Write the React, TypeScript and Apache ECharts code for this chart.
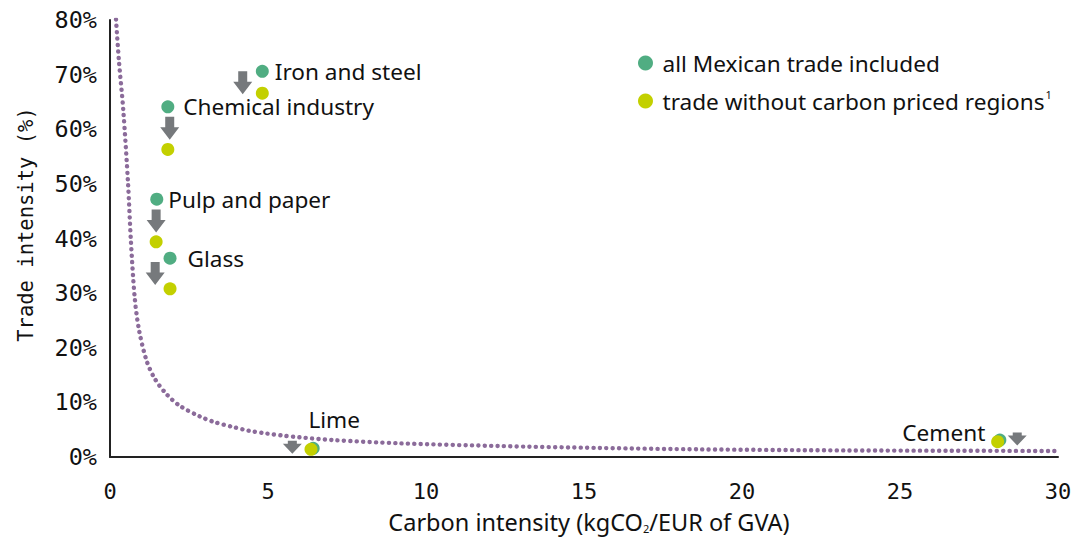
import React, { useEffect, useRef } from "react";
import * as echarts from "echarts";

// ---- data ----
const sectors = ["Iron and steel", "Chemical industry", "Pulp and paper", "Glass", "Lime", "Cement"];
const carbonAll = [4.82, 1.83, 1.48, 1.9, 6.43, 28.16];
const tradeAll = [70.6, 64.1, 47.2, 36.4, 1.6, 3.1];
const carbonNoPrice = [4.82, 1.83, 1.46, 1.9, 6.36, 28.09];
const tradeNoPrice = [66.6, 56.3, 39.4, 30.8, 1.4, 2.8];

const arrowX = [4.2, 1.89, 1.46, 1.43, 5.77, 28.71];
const arrowY = [68.5, 60.2, 43.2, 33.6, 1.8, 3.3];
const arrowKind = ["tall", "tall", "tall", "tall", "short", "short"];

const curveX = [0.19, 0.28, 0.42, 0.57, 0.66, 0.78, 0.92, 1.16, 1.42, 1.79, 2.2, 2.85, 3.3, 3.89, 4.4, 4.96, 5.5, 6.01, 7.06, 9.18, 12.34, 15.5, 18.67, 23.4, 26.5, 30];
const curveY = [80.1, 72.7, 63.5, 50.2, 39.7, 29.3, 23.2, 17.6, 14.3, 11.5, 9.4, 7.4, 6.4, 5.5, 4.8, 4.3, 3.9, 3.6, 3.1, 2.5, 2.0, 1.65, 1.4, 1.2, 1.15, 1.1];

const xTicks = { min: 0, max: 30, interval: 5 };
const yTicks = { min: 0, max: 80, interval: 10 };

const legendAll = "all Mexican trade included";
const legendNoPrice = "trade without carbon priced regions";
const xTitle = "Carbon intensity (kgCO{sub|2}/EUR of GVA)";
const yTitle = "Trade intensity (%)";

const SANS = "Noto Sans";
const MONO = "DejaVu Sans Mono";
const GREEN = "#50ad82";
const YELLOW = "#c3d000";
const GREY = "#76797c";
const PURPLE = "#8b6b9a";

const ARROW_TALL = "path://M5,0 L14,0 L14,10.5 L19,10.5 L9.5,23 L0,10.5 L5,10.5 Z";
const ARROW_SHORT = "path://M5,0 L14,0 L14,3 L19,3 L9.5,13 L0,3 L5,3 Z";

const labelCfg: any[] = [
  { position: "right", distance: 6 },
  { position: "right", distance: 9 },
  { position: "right", distance: 5 },
  { position: "right", distance: 11 },
  { position: "top", distance: 6, offset: [21, -5] },
  { position: "left", distance: 8, offset: [0, -8] },
];

export default function App() {
  const ref = useRef<HTMLDivElement>(null);
  useEffect(() => {
    if (!ref.current) return;
    const chart = echarts.init(ref.current, null, { renderer: "svg" });
    const option: any = {
      animation: false,
      backgroundColor: "#ffffff",
      grid: { left: 110, right: 19, top: 20, bottom: 83, containLabel: false },
      legend: {
        data: [legendAll, legendNoPrice],
        orient: "vertical",
        left: 638,
        top: 51,
        padding: 0,
        icon: "circle",
        itemWidth: 24,
        itemHeight: 15,
        itemGap: 14,
        formatter: (name: string) => (name === legendNoPrice ? name + "{sup|1}" : name),
        textStyle: {
          fontFamily: SANS,
          fontSize: 22.6,
          lineHeight: 24,
          color: "#111",
          rich: {
            sup: { fontFamily: SANS, fontSize: 11, verticalAlign: "top", lineHeight: 24, padding: [0, 0, 10, 1] },
          },
        },
      },
      xAxis: {
        type: "value",
        min: xTicks.min,
        max: xTicks.max,
        interval: xTicks.interval,
        name: xTitle,
        nameLocation: "middle",
        nameGap: 53,
        nameTextStyle: {
          fontFamily: SANS,
          fontSize: 23.5,
          color: "#111",
          padding: [0, 0, 0, 10],
          rich: { sub: { fontFamily: SANS, fontSize: 11, verticalAlign: "bottom", padding: [8, 0, 0, 0] } },
        },
        axisLine: { show: true, lineStyle: { color: "#222", width: 2 } },
        axisTick: { show: false },
        splitLine: { show: false },
        axisLabel: { fontFamily: MONO, fontSize: 22, color: "#111", margin: 23 },
      },
      yAxis: {
        type: "value",
        min: yTicks.min,
        max: yTicks.max,
        interval: yTicks.interval,
        name: yTitle,
        nameLocation: "middle",
        nameGap: 74,
        nameTextStyle: { fontFamily: MONO, fontSize: 20.5, color: "#111", padding: [0, 0, 0, 28] },
        axisLine: { show: true, lineStyle: { color: "#222", width: 2 } },
        axisTick: { show: false },
        splitLine: { show: false },
        axisLabel: { fontFamily: MONO, fontSize: 23.5, color: "#111", margin: 13, formatter: "{value}%" },
      },
      series: [
        {
          type: "line",
          name: "curve",
          data: curveX.map((x, i) => [x, curveY[i]]),
          showSymbol: false,
          smooth: 0.3,
          lineStyle: { color: PURPLE, width: 4.4, type: [0.1, 6.3], cap: "round" },
          silent: true,
          z: 1,
        },
        {
          type: "scatter",
          name: "arrows",
          data: arrowX.map((x, i) => ({
            value: [x, arrowY[i]],
            symbol: arrowKind[i] === "tall" ? ARROW_TALL : ARROW_SHORT,
            symbolSize: arrowKind[i] === "tall" ? [19, 23] : [19, 13],
          })),
          itemStyle: { color: GREY, opacity: 1 },
          z: 2,
        },
        {
          type: "scatter",
          name: legendAll,
          data: carbonAll.map((x, i) => ({
            value: [x, tradeAll[i]],
            name: sectors[i],
            label: { show: true, ...labelCfg[i] },
          })),
          symbol: "circle",
          symbolSize: 13,
          itemStyle: { color: GREEN, opacity: 1 },
          label: {
            show: true,
            formatter: "{b}",
            fontFamily: SANS,
            fontSize: 22.6,
            color: "#111",
          },
          z: 3,
        },
        {
          type: "scatter",
          name: legendNoPrice,
          data: carbonNoPrice.map((x, i) => [x, tradeNoPrice[i]]),
          symbol: "circle",
          symbolSize: 13,
          itemStyle: { color: YELLOW, opacity: 1 },
          z: 4,
        },
      ],
    };
    chart.setOption(option);
    return () => chart.dispose();
  }, []);
  return (
    <div
      ref={ref}
      style={{ position: "fixed", left: 0, top: 0, width: 1077, height: 540 }}
    />
  );
}
